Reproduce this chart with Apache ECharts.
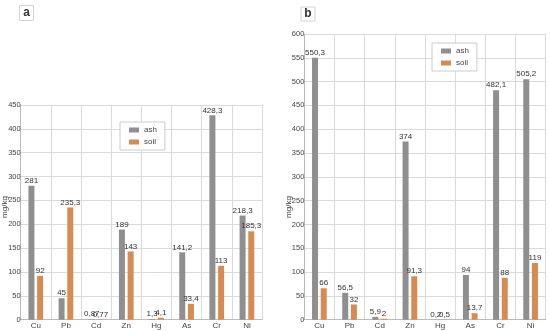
<!DOCTYPE html>
<html><head><meta charset="utf-8">
<script src="https://cdn.jsdelivr.net/npm/echarts@6/dist/echarts.min.js"></script>
<style>html,body{margin:0;padding:0;background:#fff}#c{width:550px;height:331px}</style>
</head><body><div id="c"></div>
<script>
const categories = ['Cu','Pb','Cd','Zn','Hg','As','Cr','Ni'];
const ashA  = [281, 45, 0.87, 189, 1.3, 141.2, 428.3, 218.3];
const soilA = [92, 235.3, 0.77, 143, 4.1, 33.4, 113, 185.3];
const ashB  = [550.3, 56.5, 5.9, 374, 0.2, 94, 482.1, 505.2];
const soilB = [66, 32, 2, 91.3, 0.5, 13.7, 88, 119];
const yTicksA = {min: 0, max: 450, interval: 50};
const yTicksB = {min: 0, max: 600, interval: 50};

const GRAY = '#8f8f8f', ORANGE = '#d78b52', GRID = '#dadada', FONT = 'Liberation Sans';
const fmt = p => String(p.value).replace('.', ',');
function xAx(i){return {type:'category', gridIndex:i, data:categories,
  axisLine:{lineStyle:{color:'#bbb'}}, axisTick:{show:false},
  axisLabel:{color:'#444', fontSize:8, fontFamily:FONT, margin:2},
  splitLine:{show:true, lineStyle:{color:GRID}}};}
function yAx(i,t){return {type:'value', gridIndex:i, min:t.min, max:t.max, interval:t.interval,
  axisLine:{show:true, lineStyle:{color:'#bbb'}}, axisTick:{show:false},
  axisLabel:{color:'#444', fontSize:7.5, fontFamily:FONT, margin:0},
  splitLine:{lineStyle:{color:GRID}}};}
function bar(name, data, i, color){return {type:'bar', name, data, xAxisIndex:i, yAxisIndex:i,
  barWidth:6, barGap:'45%', itemStyle:{color},
  label:{show:true, position:'top', distance:1, fontSize:8, fontFamily:FONT, color:'#333', formatter:fmt}};}
function leg(left, top){return {data:['ash','soil'], orient:'vertical', left, top,
  itemWidth:10, itemHeight:5, itemGap:4, padding:[4,8,4,9],
  borderColor:'#ccc', borderWidth:1, backgroundColor:'#fff',
  textStyle:{fontSize:8, fontFamily:FONT, color:'#444'}, icon:'rect'};}

const chart = echarts.init(document.getElementById('c'));
chart.setOption({
  animation:false,
  grid:[{left:20.7, right:288, top:105, bottom:11.3},
        {left:304.3, right:4.3, top:34, bottom:11.3}],
  xAxis:[xAx(0), xAx(1)],
  yAxis:[yAx(0,yTicksA), yAx(1,yTicksB)],
  legend:[leg(120,122), leg(432,43)],
  series:[bar('ash',ashA,0,GRAY), bar('soil',soilA,0,ORANGE),
          bar('ash',ashB,1,GRAY), bar('soil',soilB,1,ORANGE)],
  graphic:[
    {type:'rect', shape:{x:19.5,y:5.5,width:14,height:15}, style:{fill:'#fff', stroke:'#d4d4d4'}},
    {type:'text', x:26.5, y:13, style:{text:'a', fontSize:12, fontWeight:'bold', fontFamily:FONT, fill:'#333', align:'center', verticalAlign:'middle'}},
    {type:'rect', shape:{x:301,y:7,width:14,height:14}, style:{fill:'#fff', stroke:'#d4d4d4'}},
    {type:'text', x:308, y:14, style:{text:'b', fontSize:12, fontWeight:'bold', fontFamily:FONT, fill:'#333', align:'center', verticalAlign:'middle'}},
    {type:'text', x:5, y:207, rotation:Math.PI/2, style:{text:'mg/kg', fontSize:8, fontFamily:FONT, fill:'#444', align:'center', verticalAlign:'middle'}},
    {type:'text', x:289, y:207, rotation:Math.PI/2, style:{text:'mg/kg', fontSize:8, fontFamily:FONT, fill:'#444', align:'center', verticalAlign:'middle'}}
  ]
});
</script></body></html>
